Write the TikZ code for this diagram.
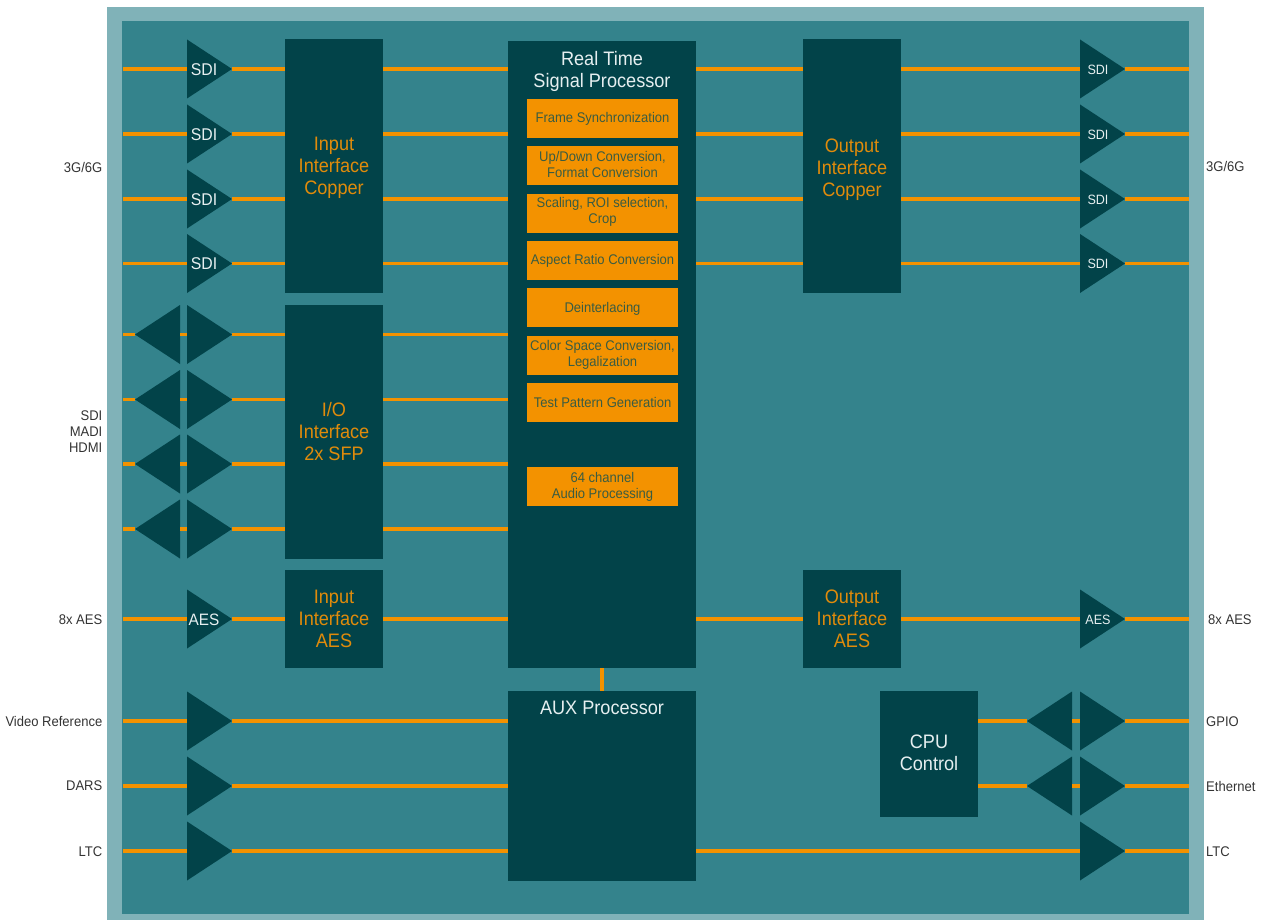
\documentclass[tikz,border=0pt]{standalone}
\usepackage{fontspec}
\setmainfont[FakeStretch=0.93]{Liberation Sans}
\usetikzlibrary{shapes.geometric}
\definecolor{band}{HTML}{80B2B8}
\definecolor{inner}{HTML}{34838C}
\definecolor{dark}{HTML}{024349}
\definecolor{amber}{HTML}{F39200}
\definecolor{amberText}{HTML}{E08B0B}
\definecolor{paleText}{HTML}{E6EFF0}
\definecolor{boxText}{HTML}{3A5C42}
\definecolor{sideText}{HTML}{333333}
\newcommand{\fpx}[1]{\fontsize{#1}{#1}\selectfont}
\tikzset{
  block/.style={fill=dark,inner sep=0pt,outer sep=0pt,anchor=north west},
  wire/.style={draw=amber,line width=3.1pt},
  side/.style={text=sideText,font=\fpx{14},inner sep=0pt,align=right},
  title/.style={text=amberText,font=\fpx{19.5},inner sep=0pt,align=center},
  ptitle/.style={text=paleText,font=\fpx{19.5},inner sep=0pt,align=center},
  fntext/.style={text=boxText,font=\fpx{14},inner sep=0pt,align=center},
  fnrect/.style={fill=amber,inner sep=0pt,outer sep=0pt,anchor=north west,minimum width=151pt},
  trilabel/.style={text=paleText,inner sep=0pt},
  tri/.style={isosceles triangle,isosceles triangle stretches=true,fill=dark,inner sep=0pt,outer sep=0pt,
    minimum width=59pt,minimum height=45pt},
  triR/.style={tri,shape border rotate=0,anchor=lower side},
  triL/.style={tri,shape border rotate=180,anchor=lower side},
}
% block: name, x0, y0, x1, y1
\newcommand{\blockat}[5]{%
  \node[block,minimum width={(#4-#2)*1pt},minimum height={(#5-#3)*1pt}] (#1) at (#2,#3) {};
}
\newcommand{\fnbox}[5]{% name, y0, y1, text dy, text
  \node[fnrect,minimum height={(#3-#2)*1pt}] (#1) at (527,#2) {};
  \node[fntext] (#1t) at (602.5,{(#2+#3)/2+#4}) {#5};
}
\begin{document}
\begin{tikzpicture}[x=1pt,y=-1pt]
\useasboundingbox (0,0) rectangle (1265,920);
\fill[band] (107,7) rectangle (1204,920);
\fill[inner] (122,21) rectangle (1189,914);
% free wire ends
\foreach \n/\y in {a/69,b/134,c/199,d/263.5,e/334.5,f/399.5,g/464,h/529,i/619,j/721,k/786,m/851}{
  \coordinate (L\n) at (123,\y);
  \coordinate (R\n) at (1189,\y);
}
% blocks
\blockat{ic}{285}{39}{383}{293}
\blockat{io}{285}{305}{383}{559}
\blockat{ia}{285}{570}{383}{668}
\blockat{oc}{803}{39}{901}{293}
\blockat{oa}{803}{570}{901}{668}
\blockat{rt}{508}{41}{696}{668}
\blockat{aux}{508}{691}{696}{881}
\blockat{cpu}{880}{691}{978}{817}
% triangles
\foreach \n/\y in {a/69,b/134,c/199,d/263.5,e/334.5,f/399.5,g/464,h/529,i/619,j/721,k/786,m/851}{
  \node[triR] (t\n) at (187,\y) {};
}
\foreach \n/\y in {e/334.5,f/399.5,g/464,h/529}{
  \node[triL] (u\n) at (180,\y) {};
}
\foreach \n/\y in {a/69,b/134,c/199,d/263.5,i/619,j/721,k/786,m/851}{
  \node[triR] (v\n) at (1080,\y) {};
}
\foreach \n/\y in {j/721,k/786}{
  \node[triL] (w\n) at (1072,\y) {};
}
% wires
\foreach \n in {a,b,c,d,i,j,k,m}{
  \draw[wire] (L\n) -- (t\n.lower side);
}
\foreach \n in {e,f,g,h}{
  \draw[wire] (L\n) -- (u\n.apex);
  \draw[wire] (u\n.lower side) -- (t\n.lower side);
}
\foreach \n in {a,b,c,d}{
  \draw[wire] (t\n.apex) -- (ic.west |- t\n.apex);
  \draw[wire] (ic.east |- t\n.apex) -- (rt.west |- t\n.apex);
  \draw[wire] (rt.east |- t\n.apex) -- (oc.west |- t\n.apex);
  \draw[wire] (oc.east |- t\n.apex) -- (v\n.lower side);
  \draw[wire] (v\n.apex) -- (R\n);
}
\foreach \n in {e,f,g,h}{
  \draw[wire] (t\n.apex) -- (io.west |- t\n.apex);
  \draw[wire] (io.east |- t\n.apex) -- (rt.west |- t\n.apex);
}
\draw[wire] (ti.apex) -- (ia.west |- ti.apex);
\draw[wire] (ia.east |- ti.apex) -- (rt.west |- ti.apex);
\draw[wire] (rt.east |- vi.apex) -- (oa.west |- vi.apex);
\draw[wire] (oa.east |- vi.apex) -- (vi.lower side);
\draw[wire] (vi.apex) -- (Ri);
\foreach \n in {j,k,m}{
  \draw[wire] (t\n.apex) -- (aux.west |- t\n.apex);
  \draw[wire] (v\n.apex) -- (R\n);
}
\draw[wire] (aux.east |- vm.apex) -- (vm.lower side);
\foreach \n in {j,k}{
  \draw[wire] (cpu.east |- w\n.apex) -- (w\n.apex);
  \draw[wire] (w\n.lower side) -- (v\n.lower side);
}
\draw[wire] (rt.south) -- (aux.north);
% block titles
\node[title] (ict) at (334,168) {Input\\[2.6pt]Interface\\[2.6pt]Copper};
\node[title] (iot) at (334,431.5) {I/O\\[2.6pt]Interface\\[2.6pt]2x SFP};
\node[title] (iat) at (334,618.5) {Input\\[2.6pt]Interface\\[2.6pt]AES};
\node[title] (oct) at (852,169.5) {Output\\[2.6pt]Interface\\[2.6pt]Copper};
\node[title] (oat) at (852,618.5) {Output\\[2.6pt]Interface\\[2.6pt]AES};
\node[ptitle] (rtt) at (602,71.5) {Real Time\\[2.6pt]Signal Processor};
\node[ptitle] (auxt) at (602,708) {AUX Processor};
\node[ptitle] (cput) at (929,753) {CPU\\[2.6pt]Control};
% functions
\fnbox{fa}{99}{138}{0}{Frame Synchronization}
\fnbox{fb}{146}{185}{-1.5}{Up/Down Conversion,\\[2pt]Format Conversion}
\fnbox{fc}{194}{233}{-1.5}{Scaling, ROI selection,\\[2pt]Crop}
\fnbox{fd}{241}{280}{0}{Aspect Ratio Conversion}
\fnbox{fe}{288}{327}{1}{Deinterlacing}
\fnbox{ff}{336}{375}{-1}{Color Space Conversion,\\[2pt]Legalization}
\fnbox{fg}{383}{422}{0}{Test Pattern Generation}
\fnbox{fh}{467}{506}{0}{64 channel\\[2pt]Audio Processing}
% triangle labels
\foreach \n/\y in {a/69.5,b/134.5,c/199.5,d/264}{
  \node[trilabel,font=\fpx{17}] (tl\n) at (204,\y) {SDI};
  \node[trilabel,font=\fpx{13.5}] (vl\n) at (1098,\y) {SDI};
}
\node[trilabel,font=\fpx{16.5}] (tli) at (204,619.5) {AES};
\node[trilabel,font=\fpx{13.5}] (vli) at (1098,619.5) {AES};
% outside labels
\node[side,anchor=east] (s1) at (102.5,167) {3G/6G};
\node[side,anchor=east] (s2) at (102.5,431.5) {SDI\\[2pt]MADI\\[2pt]HDMI};
\node[side,anchor=east] (s3) at (102.5,619.5) {8x AES};
\node[side,anchor=east] (s4) at (102.5,721) {Video Reference};
\node[side,anchor=east] (s5) at (102.5,785.5) {DARS};
\node[side,anchor=east] (s6) at (102.5,851.5) {LTC};
\node[side,anchor=west] (r1) at (1206,166.5) {3G/6G};
\node[side,anchor=west] (r3) at (1208,619.5) {8x AES};
\node[side,anchor=west] (r4) at (1206,721.5) {GPIO};
\node[side,anchor=west] (r5) at (1206,786.5) {Ethernet};
\node[side,anchor=west] (r6) at (1206,851.5) {LTC};
\end{tikzpicture}
\end{document}
